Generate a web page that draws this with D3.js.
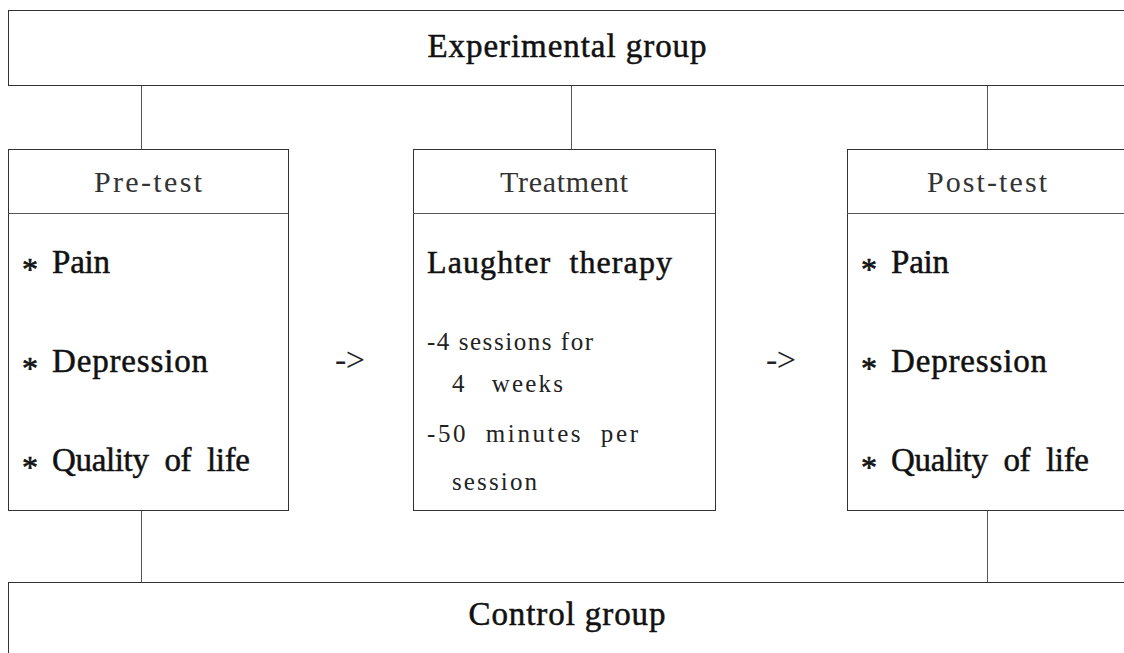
<!DOCTYPE html>
<html>
<head>
<meta charset="utf-8">
<script src="https://cdn.jsdelivr.net/npm/d3@7"></script>
<style>
  html, body { margin: 0; padding: 0; background: #fff; }
  svg { display: block; }
  text { font-family: "Liberation Serif", "DejaVu Serif", serif; white-space: pre; }
</style>
</head>
<body>
<svg id="chart"></svg>
<script>
// Данные схемы
const groups = ['Experimental group', 'Control group'];
const stages = ['Pre-test', 'Treatment', 'Post-test'];
const measures = ['Pain', 'Depression', 'Quality  of  life'];
const treatmentTitle = 'Laughter  therapy';
const treatmentLines = ['-4 sessions for', '4   weeks', '-50  minutes  per', 'session'];
const arrowLabel = '->';

// Раскладка (позиции и размеры)
const W = 1124, H = 653;
const layout = {
    topBox: { x: 8, y: 10, w: 1118, h: 75 },
    bottomBox: { x: 8, y: 582, w: 1118, h: 90 },
    stageY: 149, stageH: 361, headerH: 64,
    stageX: [8, 413, 847],
    stageW: [280, 302, 280],
    topLinks: [141, 571, 987],
    bottomLinks: [141, 987],
    headerWidths: [108, 128, 120],
    groupWidths: [279, 197],
    groupBaselines: [57, 625],
    measureY: [273, 372, 471],
    measureWidths: [58, 156, 198],
    treatTitle: { x: 427, y: 273, w: 245 },
    treatLines: [
        { x: 427, y: 350, w: 166 },
        { x: 452, y: 392, w: 111 },
        { x: 427, y: 442, w: 211 },
        { x: 452, y: 490, w: 85 }
    ],
    arrows: [{ x: 350, y: 371 }, { x: 781, y: 371 }]
};

const svg = d3.select('#chart').attr('width', W).attr('height', H);

const lines = svg.append('g')
    .attr('fill', 'none')
    .attr('shape-rendering', 'crispEdges');

// Соединительные линии
lines.selectAll('line.top')
    .data(layout.topLinks)
    .enter().append('line')
    .attr('x1', d => d + 0.5).attr('x2', d => d + 0.5)
    .attr('y1', layout.topBox.y + layout.topBox.h)
    .attr('y2', layout.stageY)
    .attr('stroke', '#555').attr('stroke-width', 1.5);

lines.selectAll('line.bottom')
    .data(layout.bottomLinks)
    .enter().append('line')
    .attr('x1', d => d + 0.5).attr('x2', d => d + 0.5)
    .attr('y1', layout.stageY + layout.stageH)
    .attr('y2', layout.bottomBox.y)
    .attr('stroke', '#555').attr('stroke-width', 1.5);

// Рамки групп
[layout.topBox, layout.bottomBox].forEach(b => {
    lines.append('rect')
        .attr('x', b.x + 0.5).attr('y', b.y + 0.5)
        .attr('width', b.w).attr('height', b.h)
        .attr('stroke', '#333').attr('stroke-width', 1);
});

// Рамки этапов
stages.forEach((s, i) => {
    const x = layout.stageX[i], w = layout.stageW[i];
    lines.append('rect')
        .attr('x', x + 0.5).attr('y', layout.stageY + 0.5)
        .attr('width', w).attr('height', layout.stageH)
        .attr('stroke', '#333').attr('stroke-width', 1);
    lines.append('line')
        .attr('x1', x).attr('x2', x + w)
        .attr('y1', layout.stageY + layout.headerH + 0.5)
        .attr('y2', layout.stageY + layout.headerH + 0.5)
        .attr('stroke', '#555').attr('stroke-width', 1.2);
});

const texts = svg.append('g');

function addText(str, x, y, size, width, opts = {}) {
    const t = texts.append('text')
        .attr('x', x).attr('y', y)
        .attr('font-size', size)
        .attr('fill', opts.fill || '#111')
        .attr('text-anchor', opts.anchor || 'start')
        .text(str);
    if (width) t.attr('textLength', width).attr('lengthAdjust', 'spacing');
    if (opts.stroke) t.attr('stroke', opts.fill || '#111').attr('stroke-width', opts.stroke);
    return t;
}

// Названия групп
groups.forEach((g, i) => {
    addText(g, layout.topBox.x + layout.topBox.w / 2, layout.groupBaselines[i], 33,
        layout.groupWidths[i], { anchor: 'middle', stroke: 0.5 });
});

// Заголовки этапов
stages.forEach((s, i) => {
    const cx = layout.stageX[i] + layout.stageW[i] / 2;
    addText(s, cx, 192, 30, layout.headerWidths[i], { anchor: 'middle', fill: '#333' });
});

// Показатели до и после
[0, 2].forEach(i => {
    const x0 = layout.stageX[i];
    measures.forEach((m, j) => {
        addText('*', x0 + 14, layout.measureY[j] + 7, 32, null, { stroke: 0.6 });
        addText(m, x0 + 44, layout.measureY[j], 33, layout.measureWidths[j], { stroke: 0.5 });
    });
});

// Вмешательство
addText(treatmentTitle, layout.treatTitle.x, layout.treatTitle.y, 32, layout.treatTitle.w, { stroke: 0.5 });
treatmentLines.forEach((l, i) => {
    const p = layout.treatLines[i];
    addText(l, p.x, p.y, 25, p.w, { fill: '#222' });
});

// Стрелки
layout.arrows.forEach(a => {
    addText(arrowLabel, a.x, a.y, 34, 30, { anchor: 'middle', fill: '#222' });
});
</script>
</body>
</html>
